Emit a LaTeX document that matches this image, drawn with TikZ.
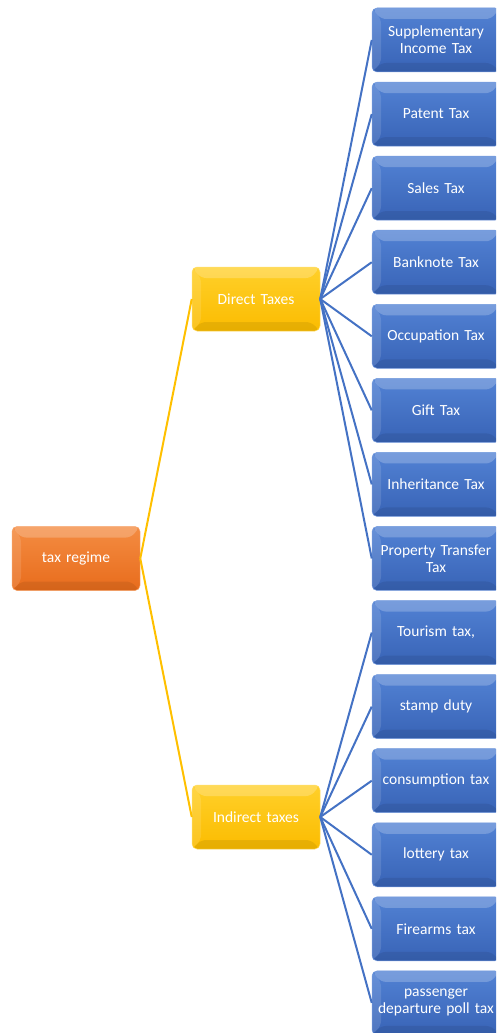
\documentclass[tikz,border=0pt]{standalone}
\usepackage{fontspec}
\setmainfont{Carlito}
\definecolor{bluetop}{HTML}{5282D4}
\definecolor{bluebot}{HTML}{3863B6}
\definecolor{blueline}{HTML}{4472C4}
\definecolor{yeltop}{HTML}{FFD02A}
\definecolor{yelbot}{HTML}{FBBC00}
\definecolor{yelline}{HTML}{FFC000}
\definecolor{ortop}{HTML}{F48C42}
\definecolor{orbot}{HTML}{E86C1C}
\tikzset{
  box/.style={rounded corners=5pt, minimum width=128pt, minimum height=64pt,
    text width=124pt, align=center, text=white, inner sep=1pt,
    font=\fontsize{15.5}{17}\selectfont,
    path picture={
      \fill[white,opacity=0.22] (path picture bounding box.north west) -- (path picture bounding box.north east)
        -- ([xshift=-9pt,yshift=-11pt]path picture bounding box.north east) -- ([xshift=9pt,yshift=-11pt]path picture bounding box.north west) -- cycle;
      \fill[white,opacity=0.12] (path picture bounding box.north west) -- ([xshift=9pt,yshift=-11pt]path picture bounding box.north west)
        -- ([xshift=9pt,yshift=9pt]path picture bounding box.south west) -- (path picture bounding box.south west) -- cycle;
      \fill[black,opacity=0.08] (path picture bounding box.south west) -- (path picture bounding box.south east)
        -- ([xshift=-9pt,yshift=9pt]path picture bounding box.south east) -- ([xshift=9pt,yshift=9pt]path picture bounding box.south west) -- cycle;
    }},
  leafbox/.style={box, top color=bluetop, bottom color=bluebot, draw=bluetop!80!white, line width=0.5pt},
  midbox/.style={box, top color=yeltop, bottom color=yelbot, draw=yeltop!70!white, line width=0.5pt},
  rootbox/.style={box, top color=ortop, bottom color=orbot, draw=ortop!80!white, line width=0.5pt},
  blueedge/.style={draw=blueline, line width=2pt},
  yeledge/.style={draw=yelline, line width=2pt}
}
\begin{document}
\begin{tikzpicture}[x=1pt,y=-1pt]
\useasboundingbox (0,0) rectangle (496,1033);
\clip (0,0) rectangle (496,1033);
\node[rootbox] (root) at (76,558.5) {tax regime};
\node[midbox] (direct) at (256,299) {Direct Taxes};
\node[midbox] (indirect) at (256,817) {Indirect taxes};
\node[leafbox] (d1) at (436,40) {Supplementary\\Income Tax};
\node[leafbox] (d2) at (436,114.07) {Patent Tax};
\node[leafbox] (d3) at (436,188.14) {Sales Tax};
\node[leafbox] (d4) at (436,262.21) {Banknote Tax};
\node[leafbox] (d5) at (436,336.28) {Occupation Tax};
\node[leafbox] (d6) at (436,410.35) {Gift Tax};
\node[leafbox] (d7) at (436,484.42) {Inheritance Tax};
\node[leafbox] (d8) at (436,558.49) {Property Transfer\\Tax};
\node[leafbox] (i1) at (436,632.56) {Tourism tax,};
\node[leafbox] (i2) at (436,706.63) {stamp duty};
\node[leafbox] (i3) at (436,780.7) {consumption tax};
\node[leafbox] (i4) at (436,854.77) {lottery tax};
\node[leafbox] (i5) at (436,928.84) {Firearms tax};
\node[leafbox] (i6) at (436,1002.91) {passenger\\departure poll tax};
\draw[yeledge] (root.east) -- (direct.west);
\draw[yeledge] (root.east) -- (indirect.west);
\foreach \n in {d1,d2,d3,d4,d5,d6,d7,d8} \draw[blueedge] (direct.east) -- (\n.west);
\foreach \n in {i1,i2,i3,i4,i5,i6} \draw[blueedge] (indirect.east) -- (\n.west);
\end{tikzpicture}
\end{document}
